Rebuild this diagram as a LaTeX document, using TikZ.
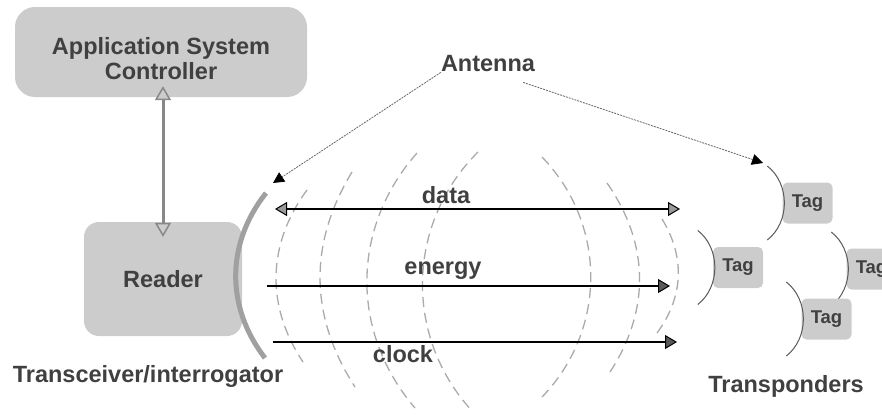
\documentclass[tikz,border=0pt]{standalone}
\usepackage{fontspec}
\setmainfont{Liberation Sans}
\usetikzlibrary{arrows.meta,calc}
\definecolor{boxgray}{HTML}{CCCCCC}
\definecolor{txtgray}{HTML}{404040}
\definecolor{wavegray}{HTML}{AAAAAA}
\definecolor{linkgray}{HTML}{888888}
\newcommand{\rfidfont}{\fontsize{23.5}{25}\selectfont\bfseries}
\newcommand{\rfidtagfont}{\fontsize{18.5}{20}\selectfont\bfseries}
\newcommand{\rfidtag}[2]{%
  \node[tagbox] (#1) at (#2) {Tag};
  \draw[bracket] ($(#1.west)+(-15,-37)$) to[bend left=52] ($(#1.west)+(-15,37)$);}
\newcommand{\wave}[3]{\draw[wave] (#1) to[bend #3] (#2);}

\begin{document}
\begin{tikzpicture}[x=1pt,y=-1pt,font=\rfidfont,text=txtgray,
  box/.style={fill=boxgray,inner sep=0pt},
  tagbox/.style={fill=boxgray,rounded corners=5pt,minimum width=50pt,minimum height=41pt,inner sep=0pt,font=\rfidtagfont},
  lbl/.style={inner sep=0pt},
  bracket/.style={draw=black!65,line width=1pt},
  wave/.style={draw=wavegray,line width=1.3pt,dash pattern=on 10pt off 6pt},
  signal/.style={line width=1.4pt},
  pointer/.style={draw=black!60,line width=0.8pt,dash pattern=on 2pt off 1pt,
    -{Triangle[width=11pt,length=11pt,color=black]}}]
\clip (0,0) rectangle (882,415);
% radio field
\wave{307,190}{303,362}{right=35}
\wave{352,172}{355,387}{right=32}
\wave{417,153}{415,408}{right=41}
\wave{478,152}{473,412}{right=44}
\wave{542,157}{542,397}{left=44}
\wave{607,183}{610,372}{left=34}
\wave{662,219}{657,333}{left=34}
% reader side
\node[box,rounded corners=20pt,minimum width=292pt,minimum height=90pt,
  label={[lbl,align=center,yshift=-7pt]center:{Application System\\Controller}}] (ctrl) at (161,52) {};
\node[box,rounded corners=15pt,minimum width=158pt,minimum height=114pt] (reader) at (163,279) {Reader};
\draw[linkgray,line width=3pt,shorten <=-11pt,shorten >=-15pt,
  {Triangle[width=16pt,length=14pt,fill=boxgray,line width=1.5pt]}-{Triangle[width=16pt,length=14pt,fill=boxgray,line width=1.5pt]}]
  (reader.north |- ctrl.south) -- (reader.north);
\draw[linkgray!80,line width=5pt] (266,193) to[bend right=38] (265,358);
\node[lbl] (txlbl) at (148,376) {Transceiver/interrogator};
% signals
\coordinate (d1) at (275,209); \coordinate (d2) at (680,209);
\coordinate (e1) at (267,286); \coordinate (e2) at (670,286);
\coordinate (k1) at (273,342); \coordinate (k2) at (677,342);
\draw[signal,{Triangle[width=14pt,length=12pt,fill=black!40,line width=1pt]}-{Triangle[width=14pt,length=12pt,fill=black!40,line width=1pt]}] (d1) -- (d2);
\draw[signal,-{Triangle[width=14pt,length=12pt,fill=black!65,line width=1pt]}] (e1) -- (e2);
\draw[signal,-{Triangle[width=14pt,length=12pt,fill=black!65,line width=1pt]}] (k1) -- (k2);
\node[lbl] (data) at (446,195) {data};
\node[lbl] (energy) at (443,271) {energy};
\node[lbl] (clock) at (403,354) {clock};
% transponders
\rfidtag{tag1}{807.5,203}
\rfidtag{tag2}{738,267.5}
\rfidtag{tag3}{871.5,269}
\rfidtag{tag4}{826.5,319}
\node[lbl] (tplbl) at (786,386) {Transponders};
% antenna callout
\node[lbl] (ant) at (488,64) {Antenna};
\coordinate (antL) at (273,183);
\coordinate (antR) at (763,163);
\draw[pointer] (ant.south west) -- (antL);
\draw[pointer] ($(ant.south east)+(-12,10)$) -- (antR);
\end{tikzpicture}
\end{document}
